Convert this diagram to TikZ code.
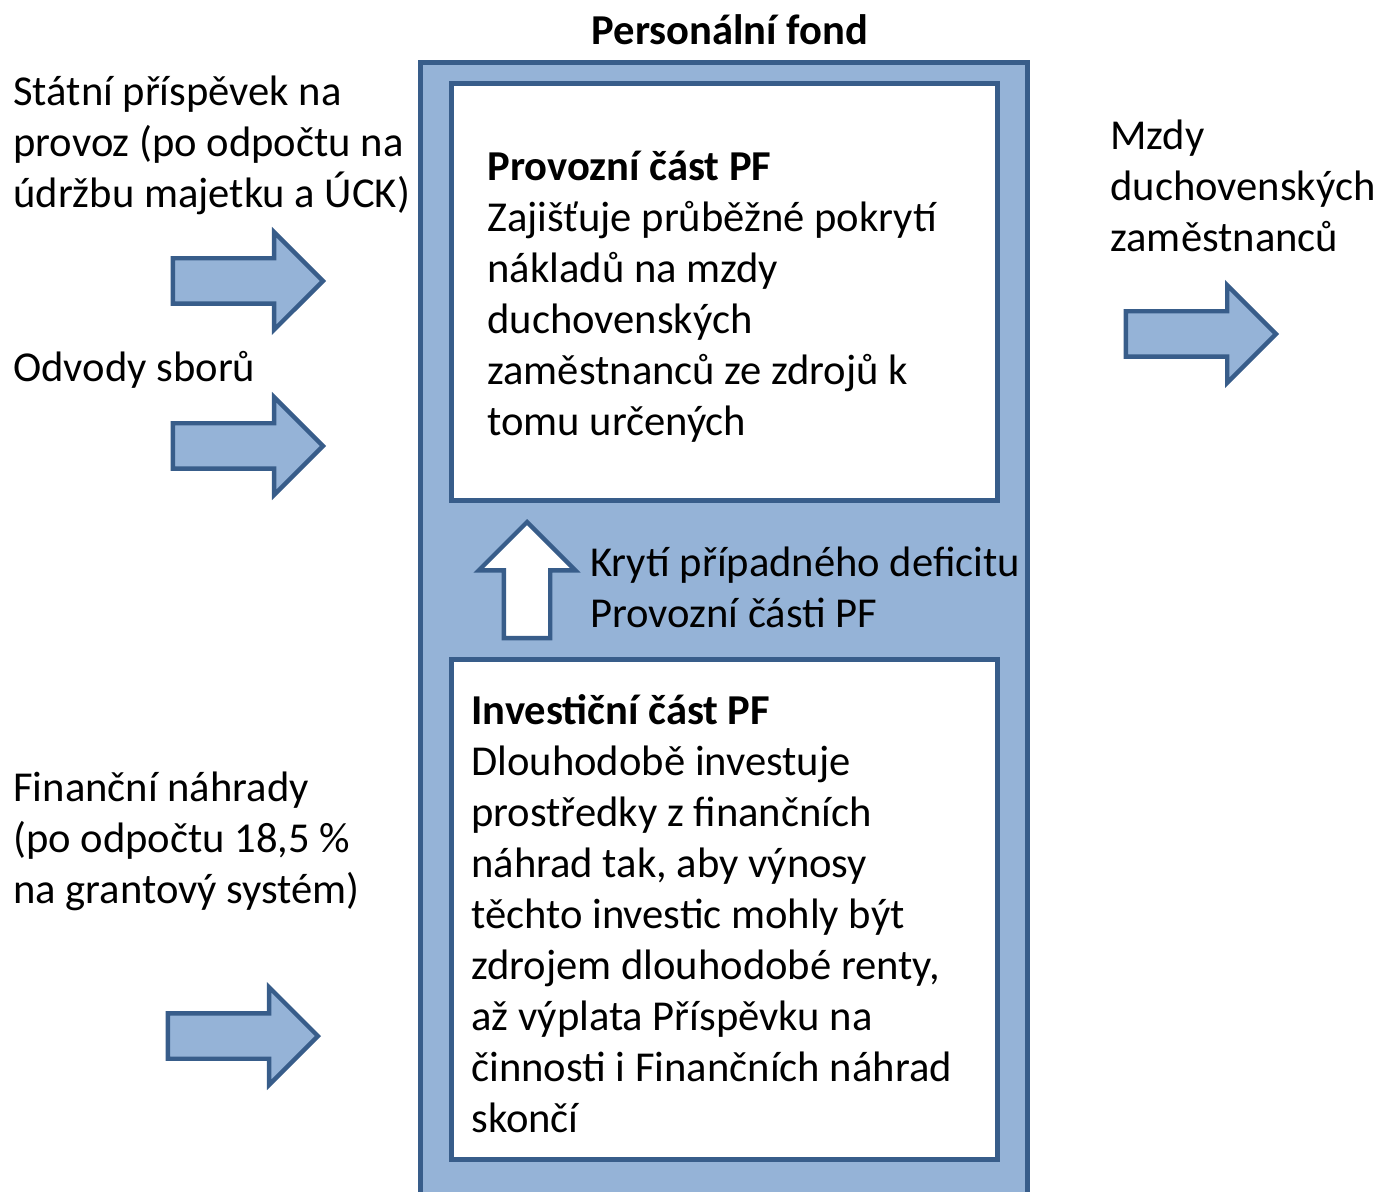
\documentclass[tikz,border=0pt]{standalone}
\usepackage{fontspec}
\setmainfont{Carlito}
\usetikzlibrary{shapes.arrows}
\definecolor{fondfill}{HTML}{95B3D7}
\definecolor{fondline}{HTML}{385D8A}

\begin{document}
\begin{tikzpicture}[x=0.5pt, y=-0.5pt,
    block arrow/.style={single arrow, anchor=tip, draw=fondline, fill=fondfill, line width=2.2pt, inner sep=0pt, text height=20.5pt, text depth=0pt, minimum height=75pt, single arrow head extend=13pt, single arrow head indent=0pt},
    fund box/.style={draw=fondline, line width=2.5pt},
    label text/.style={anchor=base west, align=flush left, text width=280pt, inner sep=0pt, font=\fontsize{21.3}{25.5}\selectfont}]
        \useasboundingbox (0,0) rectangle (1376,1192);

        % personal fund and its two parts
        \draw[fund box, fill=fondfill] (420,63) rectangle (1027,1200);
        \draw[fund box, fill=white] (451,84) rectangle (997,500);
        \draw[fund box, fill=white] (451,659) rectangle (997,1159);
        \node[anchor=base, inner sep=0pt, font=\fontsize{21.3}{25.5}\selectfont\bfseries] (title) at (730,45) {Personální fond};

        % inflows and outflow
        \node[block arrow] (in1) at (326,281) {};
        \node[block arrow] (in2) at (326,446) {};
        \node[block arrow] (in3) at (321,1036) {};
        \node[block arrow] (out) at (1279,334) {};
        \node[block arrow, fill=white, rotate=90, minimum height=58pt, text height=21pt, single arrow head extend=12.5pt] (up) at (527,519) {};

        \node[label text] (statni) at (13,106) {Státní příspěvek na\\provoz (po odpočtu na\\údržbu majetku a ÚCK)};
        \node[label text] (odvody) at (13,382) {Odvody sborů};
        \node[label text] (nahrady) at (13,801) {Finanční náhrady\\(po odpočtu 18,5 \%\\na grantový systém)};
        \node[label text] (mzdy) at (1110,150) {Mzdy\\duchovenských\\zaměstnanců};

        \node[label text] (provoz) at (487,181) {\textbf{Provozní část PF}\\Zajišťuje průběžné pokrytí\\nákladů na mzdy\\duchovenských\\zaměstnanců ze zdrojů k\\tomu určených};
        \node[label text] (kryti) at (590,576) {Krytí případného deficitu\\Provozní části PF};
        \node[label text] (invest) at (471,724) {\textbf{Investiční část PF}\\Dlouhodobě investuje\\prostředky z finančních\\náhrad tak, aby výnosy\\těchto investic mohly být\\zdrojem dlouhodobé renty,\\až výplata Příspěvku na\\činnosti i Finančních náhrad\\skončí};
    \end{tikzpicture}
\end{document}
